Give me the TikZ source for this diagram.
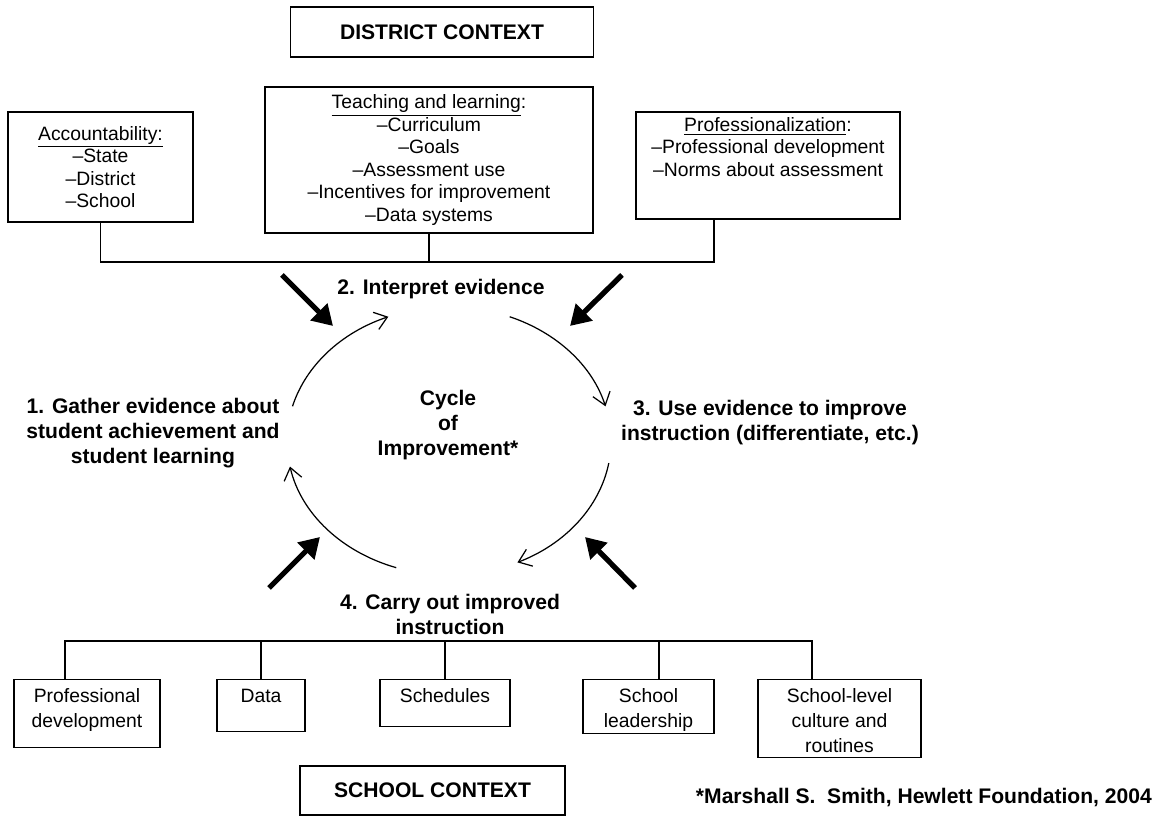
\documentclass[tikz,border=0pt]{standalone}
\usepackage{fontspec}
\setmainfont{Liberation Sans}
\usetikzlibrary{positioning, arrows.meta}

\begin{document}
\begin{tikzpicture}[
        font=\fontsize{11}{12.8}\selectfont,
        box/.style={
            draw=black,
            line width=0.8pt,
            align=center,
            inner sep=0pt
        },
        unit/.style={box, anchor=north, font=\fontsize{11}{14.2}\selectfont},
        ctx/.style={box, font=\fontsize{12}{14}\selectfont\bfseries, minimum height=1cm},
        stage/.style={align=center, font=\fontsize{12}{14.2}\selectfont\bfseries},
        link/.style={line width=0.8pt},
        cycarrow/.style={line width=0.7pt, -{Straight Barb[length=2.4mm, width=3.6mm]}},
        influence/.style={line width=3pt, -{Triangle[length=4mm, width=4.6mm]}}
    ]

    \useasboundingbox (0,0) rectangle (23.26,16.38);

    % district level
    \node[ctx, minimum width=6.06cm] (district) at (8.84,15.74) {DISTRICT CONTEXT};

    \node[box, minimum width=3.7cm, minimum height=2.2cm] (acct) at (2.01,13.04) {
        \underline{Accountability:}\\
        \textendash State\\
        \textendash District\\
        \textendash School
    };

    \node[box, minimum width=6.56cm, minimum height=2.92cm] (teach) at (8.58,13.18) {
        \underline{Teaching and learning}:\\
        \textendash Curriculum\\
        \textendash Goals\\
        \textendash Assessment use\\
        \textendash Incentives for improvement\\
        \textendash Data systems
    };

    \node[box] (prof) at (15.36,13.07) {\parbox[c][2.14cm][t]{5.28cm}{\centering
        \rule{0pt}{11pt}\underline{Professionalization}:\\
        \textendash Professional development\\
        \textendash Norms about assessment}};

    \coordinate (topbar) at (8.58,11.14);
    \draw[link] (acct.south) |- (topbar) -| ([xshift=-1.08cm]prof.south);
    \draw[link] (teach.south) -- (topbar);

    % the cycle
    \coordinate (ctr) at (8.98,7.56);
    \node[stage] (gather) at (3.06,7.72) {1. Gather evidence about\\student achievement and\\student learning};
    \node[stage] (interpret) at (8.82,10.60) {2. Interpret evidence};
    \node[stage] (use) at (15.40,7.92) {3. Use evidence to improve\\instruction (differentiate, etc.)};
    \node[stage] (carry) at (9.0,4.10) {4. Carry out improved\\instruction};
    \node[stage] (cyclbl) at (8.96,7.88) {Cycle\\of\\Improvement*};

    \draw[cycarrow] ([shift={(165:3.24 and 2.68)}]ctr) arc[start angle=165, end angle=112, x radius=3.24, y radius=2.68];
    \draw[cycarrow] ([shift={(68:3.24 and 2.68)}]ctr) arc[start angle=68, end angle=15, x radius=3.24, y radius=2.68];
    \draw[cycarrow] ([shift={(-9.5:3.24 and 2.68)}]ctr) arc[start angle=-9.5, end angle=-65, x radius=3.24, y radius=2.68];
    \draw[cycarrow] ([shift={(-109:3.24 and 2.68)}]ctr) arc[start angle=-109, end angle=-169, x radius=3.24, y radius=2.68];

    % outside influences
    \coordinate (tlfrom) at (5.64,10.88);
    \coordinate (tlto) at (6.66,9.86);
    \coordinate (trfrom) at (12.44,10.88);
    \coordinate (trto) at (11.40,9.86);
    \coordinate (blfrom) at (5.38,4.62);
    \coordinate (blto) at (6.40,5.64);
    \coordinate (brfrom) at (12.70,4.62);
    \coordinate (brto) at (11.70,5.64);
    \draw[influence] (tlfrom) -- (tlto);
    \draw[influence] (trfrom) -- (trto);
    \draw[influence] (blfrom) -- (blto);
    \draw[influence] (brfrom) -- (brto);

    % school level
    \node[unit] (profdev) at (1.74,2.80) {\parbox[c][1.36cm][t]{2.92cm}{\centering
        \rule{0pt}{13pt}Professional\\development}};
    \node[unit] (data) at (5.22,2.80) {\parbox[c][1.04cm][t]{1.76cm}{\centering
        \rule{0pt}{13pt}Data}};
    \node[unit] (sched) at (8.90,2.80) {\parbox[c][0.94cm][t]{2.6cm}{\centering
        \rule{0pt}{13pt}Schedules}};
    \node[unit] (lead) at (12.97,2.80) {\parbox[c][1.08cm][t]{2.62cm}{\centering
        \rule{0pt}{13pt}School\\leadership}};
    \node[unit] (culture) at (16.79,2.80) {\parbox[c][1.56cm][t]{3.26cm}{\centering
        \rule{0pt}{13pt}School-level\\culture and\\routines}};

    \coordinate (botbar) at (8.90,3.56);
    \draw[link] ([xshift=-0.44cm]profdev.north) |- (botbar) -| ([xshift=-0.55cm]culture.north);
    \draw[link] (data.north) -- (data.north |- botbar);
    \draw[link] (sched.north) -- (botbar);
    \draw[link] ([xshift=0.21cm]lead.north) -- ([xshift=0.21cm]lead.north |- botbar);

    \node[ctx, minimum width=5.3cm, minimum height=0.98cm] (school) at (8.65,0.57) {SCHOOL CONTEXT};
    \node[stage, anchor=east] (credit) at (23.16,0.42) {*Marshall S.\ \ Smith, Hewlett Foundation, 2004};

\end{tikzpicture}
\end{document}
